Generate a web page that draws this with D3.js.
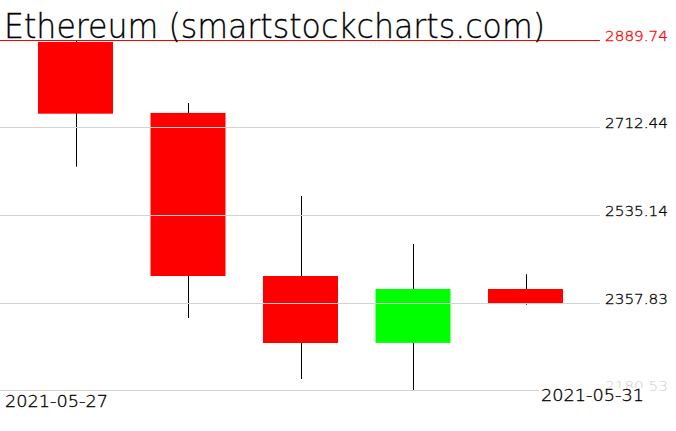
<!DOCTYPE html>
<html><head><meta charset="utf-8">
<script src="https://cdn.jsdelivr.net/npm/d3@7"></script>
<style>html,body{margin:0;padding:0;background:#fff;}svg{display:block;}</style>
</head><body>
<svg id="c" width="676" height="431"></svg>
<script>
const dates = ["2021-05-27","2021-05-28","2021-05-29","2021-05-30","2021-05-31"];
const opens  = [2885.7, 2742.0, 2411.5, 2276.0, 2385.2];
const highs  = [2889.74, 2762.0, 2573.6, 2476.4, 2415.0];
const lows   = [2633.0, 2326.4, 2202.8, 2180.53, 2353.4];
const closes = [2740.4, 2411.5, 2275.8, 2385.2, 2355.4];
const yTicks = [2180.53, 2357.83, 2535.14, 2712.44, 2889.74];
const dateLabels = ["2021-05-27","2021-05-31"];
const title = "Ethereum (smartstockcharts.com)";

const svg = d3.select("#c");
const font = "'DejaVu Sans', sans-serif";
const x = d3.scalePoint().domain(dates).range([75.5, 525.5]);
const y = d3.scaleLinear().domain([yTicks[0], yTicks[yTicks.length-1]]).range([390, 40]);
const bodyW = 75;

const data = dates.map((d,i)=>({d, o:opens[i], h:highs[i], l:lows[i], c:closes[i]}));

// wicks
svg.append("g").selectAll("line").data(data).join("line")
  .attr("x1", d=>Math.round(x(d.d))+0.5).attr("x2", d=>Math.round(x(d.d))+0.5)
  .attr("y1", d=>y(d.h)).attr("y2", d=>y(d.l))
  .attr("stroke","#000").attr("stroke-width",1);

// bodies
svg.append("g").selectAll("rect").data(data).join("rect")
  .attr("x", d=>x(d.d)-bodyW/2).attr("width", bodyW)
  .attr("y", d=>y(Math.max(d.o,d.c))).attr("height", d=>Math.abs(y(d.o)-y(d.c)))
  .attr("fill", d=>d.c>=d.o ? "#00ff00" : "#ff0000");

// gridlines
svg.append("g").selectAll("line").data(yTicks).join("line")
  .attr("x1",0).attr("x2",600)
  .attr("y1", d=>Math.round(y(d))+0.5).attr("y2", d=>Math.round(y(d))+0.5)
  .attr("stroke", (d,i)=> i===yTicks.length-1 ? "#ff0000" : "#d3d3d3").attr("stroke-width",1);

// y labels
svg.append("g").selectAll("text").data(yTicks).join("text")
  .attr("x",605).attr("y", d=>y(d)+1)
  .attr("font-family",font).attr("font-weight",200).attr("font-size",14)
  .attr("textLength",63).attr("lengthAdjust","spacingAndGlyphs")
  .attr("fill",(d,i)=> i===yTicks.length-1 ? "#ff0000" : (i===0 ? "#cccccc" : "#000"))
  .attr("stroke",(d,i)=> i===yTicks.length-1 ? "#ff0000" : (i===0 ? "none" : "#000"))
  .attr("stroke-width",0.3)
  .text(d=>d.toFixed(2));

// date labels (right one has a white background)
svg.append("rect").attr("x",539).attr("y",388).attr("width",108).attr("height",15).attr("fill","#fff");
svg.append("g").selectAll("text").data(dateLabels).join("text")
  .attr("x",(d,i)=> i===0 ? 5 : 541).attr("y",(d,i)=> i===0 ? 406.5 : 400.5)
  .attr("font-family",font).attr("font-weight",200).attr("font-size",15.5)
  .attr("textLength",103).attr("lengthAdjust","spacingAndGlyphs")
  .attr("fill","#000").attr("stroke","#000").attr("stroke-width",0.3).text(d=>d);

// title
svg.append("text").attr("x",4).attr("y",38)
  .attr("font-family",font).attr("font-weight",200).attr("font-size",33)
  .attr("textLength",541).attr("lengthAdjust","spacingAndGlyphs")
  .attr("fill","#000").attr("stroke","#000").attr("stroke-width",0.3).text(title);
</script>
</body></html>
